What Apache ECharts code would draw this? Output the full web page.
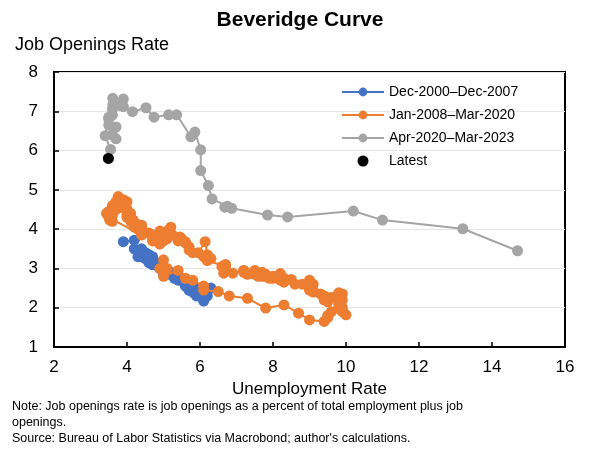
<!DOCTYPE html>
<html>
<head>
<meta charset="utf-8">
<script src="https://cdn.jsdelivr.net/npm/echarts@6/dist/echarts.min.js"></script>
<style>
  html, body { margin: 0; padding: 0; background: #fff; }
  #chart { width: 600px; height: 450px; }
</style>
</head>
<body>
<div id="chart"></div>
<script>
// [unemployment rate, job openings rate], monthly
const period2000 = [
  [3.9, 3.68],
  [4.2, 3.72], [4.2, 3.5], [4.3, 3.45], [4.4, 3.35], [4.3, 3.3], [4.5, 3.25],
  [4.6, 3.15], [4.9, 3.0], [5.0, 2.85], [5.3, 2.75], [5.5, 2.7], [5.7, 2.55],
  [5.7, 2.6], [5.7, 2.55], [5.7, 2.6], [5.9, 2.5], [5.8, 2.45], [5.8, 2.5],
  [5.8, 2.45], [5.7, 2.5], [5.7, 2.45], [5.7, 2.5], [5.9, 2.4], [6.0, 2.35],
  [5.8, 2.4], [5.9, 2.35], [5.9, 2.3], [6.0, 2.3], [6.1, 2.2], [6.3, 2.5],
  [6.2, 2.3], [6.1, 2.17], [6.1, 2.3], [6.0, 2.35], [5.8, 2.45], [5.7, 2.45],
  [5.7, 2.5], [5.6, 2.55], [5.8, 2.5], [5.6, 2.6], [5.6, 2.6], [5.6, 2.65],
  [5.5, 2.7], [5.4, 2.7], [5.4, 2.75], [5.5, 2.7], [5.4, 2.75], [5.4, 2.8],
  [5.3, 2.8], [5.4, 2.75], [5.2, 2.85], [5.2, 2.9], [5.1, 2.85], [5.0, 2.9],
  [5.0, 2.95], [4.9, 3.0], [5.0, 3.0], [5.0, 3.05], [5.0, 3.0], [4.9, 3.05],
  [4.7, 3.1], [4.8, 3.15], [4.7, 3.2], [4.7, 3.25], [4.6, 3.3], [4.6, 3.3],
  [4.7, 3.2], [4.7, 3.25], [4.5, 3.35], [4.4, 3.3], [4.5, 3.4], [4.4, 3.45],
  [4.6, 3.35], [4.5, 3.4], [4.4, 3.5], [4.5, 3.35], [4.4, 3.45], [4.6, 3.3],
  [4.7, 3.3], [4.6, 3.2], [4.7, 3.15], [4.7, 3.1], [4.7, 3.15], [5.0, 3.05]
];

const period2008 = [
  [5.0, 3.22], [4.9, 3.0], [5.1, 3.0], [5.0, 2.8], [5.4, 2.95], [5.6, 2.75],
  [5.8, 2.7], [6.1, 2.55], [6.1, 2.45], [6.5, 2.41], [6.8, 2.3], [7.3, 2.24],
  [7.8, 1.99], [8.3, 2.07], [8.7, 1.86], [9.0, 1.69], [9.4, 1.65], [9.5, 1.75],
  [9.5, 1.8], [9.6, 1.9], [9.8, 1.99], [10.0, 1.82], [9.9, 1.9], [9.9, 2.0],
  [9.8, 2.2], [9.8, 2.1], [9.9, 2.2], [9.9, 2.35], [9.6, 2.25], [9.4, 2.2],
  [9.4, 2.3], [9.5, 2.2], [9.5, 2.15], [9.4, 2.3], [9.8, 2.38], [9.3, 2.35],
  [9.1, 2.4], [9.0, 2.45], [9.0, 2.5], [9.1, 2.45], [9.0, 2.5], [9.1, 2.6],
  [9.0, 2.65], [9.0, 2.5], [9.0, 2.7], [8.8, 2.6], [8.6, 2.6], [8.5, 2.72],
  [8.3, 2.75], [8.3, 2.65], [8.2, 2.87], [8.2, 2.75], [8.2, 2.85], [8.2, 2.8],
  [8.2, 2.7], [8.0, 2.75], [7.8, 2.8], [7.8, 2.85], [7.7, 2.8], [7.9, 2.75],
  [8.0, 2.8], [7.7, 2.9], [7.5, 2.85], [7.6, 2.8], [7.5, 2.9], [7.5, 2.95],
  [7.3, 2.85], [7.2, 2.95], [7.2, 2.9], [7.2, 2.95], [6.9, 2.88], [6.65, 2.88],
  [6.6, 3.05], [6.7, 3.05], [6.7, 3.1], [6.2, 3.2], [6.3, 3.25], [6.1, 3.3],
  [6.2, 3.35], [6.14, 3.68], [5.95, 3.4], [5.7, 3.47], [5.8, 3.4], [5.6, 3.65],
  [5.7, 3.55], [5.5, 3.75], [5.45, 3.8], [5.4, 3.7], [5.6, 3.68], [5.2, 4.05],
  [5.2, 3.85], [5.1, 3.75], [5.0, 3.75], [5.0, 3.85], [5.1, 3.8], [5.0, 3.7],
  [4.8, 3.8], [4.9, 3.85], [5.0, 3.75], [5.1, 3.95], [4.8, 3.7], [4.9, 3.95],
  [4.8, 3.8], [4.9, 3.62], [5.0, 3.75], [4.9, 3.65], [4.7, 3.7], [4.7, 3.8],
  [4.7, 3.85], [4.6, 3.9], [4.4, 3.95], [4.4, 3.9], [4.4, 4.05], [4.3, 4.1],
  [4.3, 4.0], [4.4, 4.1], [4.3, 4.12], [4.2, 4.05], [4.17, 4.23], [4.1, 4.2],
  [4.0, 4.35], [4.1, 4.4], [4.0, 4.3], [4.0, 4.5], [3.8, 4.6], [4.0, 4.5],
  [3.8, 4.65], [3.9, 4.66], [3.7, 4.7], [3.76, 4.83], [3.8, 4.6], [3.9, 4.75],
  [4.0, 4.7], [3.8, 4.55], [3.8, 4.6], [3.7, 4.65], [3.6, 4.55], [3.6, 4.6],
  [3.7, 4.5], [3.6, 4.45], [3.5, 4.45], [3.6, 4.35], [3.53, 4.23], [3.6, 4.2],
  [3.44, 4.4], [3.5, 4.3], [4.4, 3.85]
];

const period2020 = [
  [14.7, 3.45], [13.2, 4.01], [11.0, 4.23], [10.2, 4.46], [8.4, 4.31], [7.85, 4.36],
  [6.87, 4.53], [6.68, 4.56], [6.75, 4.58], [6.33, 4.77], [6.23, 5.11], [6.02, 5.49],
  [6.02, 6.02], [5.86, 6.47], [5.75, 6.35], [5.36, 6.91], [5.14, 6.91], [4.74, 6.85],
  [4.52, 7.09], [4.15, 6.99], [3.9, 7.12], [3.9, 7.31], [3.8, 7.15], [3.61, 7.33],
  [3.61, 7.16], [3.6, 7.05], [3.6, 6.9], [3.5, 6.85], [3.7, 6.3], [3.5, 6.65],
  [3.7, 6.6], [3.6, 6.4], [3.5, 6.8], [3.4, 6.38], [3.55, 6.03], [3.49, 5.8]
];

const latest = [[3.49, 5.8]];

const legendNames = ['Dec-2000\u2013Dec-2007', 'Jan-2008\u2013Mar-2020', 'Apr-2020\u2013Mar-2023', 'Latest'];
const colors = ['#4472C4', '#ED7D31', '#A5A5A5', '#000000'];

const font = 'Liberation Sans, Arial, sans-serif';

const chart = echarts.init(document.getElementById('chart'));

function lineSeries(name, data, color, z) {
  return {
    name: name,
    type: 'line',
    data: data,
    z: z,
    symbol: 'circle',
    symbolSize: 11,
    showSymbol: true,
    itemStyle: { color: color },
    lineStyle: { color: color, width: 2 },
    emphasis: { disabled: true }
  };
}

chart.setOption({
  animation: false,
  color: colors,
  title: {
    text: 'Beveridge Curve',
    left: 'center',
    top: 5,
    textStyle: { fontFamily: font, fontSize: 21, fontWeight: 'bold', color: '#000' }
  },
  legend: {
    orient: 'vertical',
    left: 336,
    top: 80,
    itemWidth: 42,
    itemHeight: 11,
    itemGap: 9,
    textStyle: { fontFamily: font, fontSize: 14, color: '#000' },
    data: legendNames
  },
  grid: {
    left: 54,
    right: 35,
    top: 72,
    bottom: 103,
    show: true,
    borderColor: '#000',
    borderWidth: 2
  },
  xAxis: {
    type: 'value',
    min: 2,
    max: 16,
    interval: 2,
    name: 'Unemployment Rate',
    nameLocation: 'middle',
    nameGap: 27,
    nameTextStyle: { fontFamily: font, fontSize: 17, color: '#000' },
    axisLine: { show: true, lineStyle: { color: '#000', width: 2 } },
    axisTick: { show: true, inside: true, length: 5, lineStyle: { color: '#000', width: 1.5 } },
    axisLabel: { fontFamily: font, fontSize: 17, color: '#000', margin: 12 },
    splitLine: { show: false }
  },
  yAxis: {
    type: 'value',
    min: 1,
    max: 8,
    interval: 1,
    axisLine: { show: true, lineStyle: { color: '#000', width: 2 } },
    axisTick: { show: true, inside: true, length: 5, lineStyle: { color: '#000', width: 1.5 } },
    axisLabel: { fontFamily: font, fontSize: 17, color: '#000', margin: 16 },
    splitLine: { show: true, lineStyle: { color: '#e6e6e6', width: 1 } }
  },
  graphic: [
    {
      type: 'text',
      left: 15,
      top: 36,
      style: { text: 'Job Openings Rate', font: '18px ' + font, fill: '#000' }
    },
    {
      type: 'text',
      left: 12,
      top: 399,
      style: {
        text: 'Note: Job openings rate is job openings as a percent of total employment plus job\nopenings.\nSource: Bureau of Labor Statistics via Macrobond; author\'s calculations.',
        font: '12.5px ' + font,
        lineHeight: 16,
        fill: '#000'
      }
    }
  ],
  series: [
    lineSeries(legendNames[0], period2000, colors[0], 2),
    lineSeries(legendNames[1], period2008, colors[1], 3),
    lineSeries(legendNames[2], period2020, colors[2], 4),
    {
      name: legendNames[3],
      type: 'scatter',
      data: latest,
      z: 10,
      symbol: 'circle',
      symbolSize: 11,
      itemStyle: { color: colors[3], opacity: 1 },
      emphasis: { disabled: true }
    }
  ]
});
</script>
</body>
</html>
